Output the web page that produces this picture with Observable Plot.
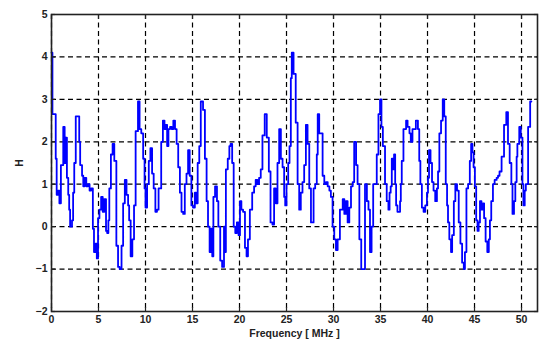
<!DOCTYPE html>
<html>
<head>
<meta charset="utf-8">
<script src="https://cdn.jsdelivr.net/npm/d3@7"></script>
<script src="https://cdn.jsdelivr.net/npm/@observablehq/plot@0.6"></script>
<style>
  html, body { margin: 0; padding: 0; background: #fff; }
  #chart svg { display: block; }
</style>
</head>
<body>
<div id="chart"></div>
<script>
const freq = [
  0.00,0.10,0.45,0.55,0.70,0.84,1.00,1.25,1.40,1.50,1.64,1.78,1.88,1.98,2.18,2.30,2.42,2.58,2.95,3.05,
  3.25,3.38,3.52,3.70,3.88,4.05,4.22,4.40,4.52,4.68,4.82,4.95,5.10,5.28,5.45,5.62,5.80,5.92,6.05,6.15,
  6.32,6.50,6.68,6.90,7.08,7.25,7.45,7.62,7.80,7.98,8.15,8.26,8.42,8.60,8.78,8.95,9.20,9.37,9.55,9.75,
  9.90,10.00,10.17,10.35,10.52,10.70,10.87,11.05,11.22,11.39,11.67,11.85,12.02,12.16,12.30,12.44,12.61,12.79,12.96,13.14,
  13.31,13.48,13.66,13.83,14.01,14.18,14.36,14.53,14.70,14.88,15.05,15.25,15.40,15.55,15.72,15.88,16.12,16.32,16.50,16.65,
  16.82,16.98,17.10,17.22,17.40,17.60,17.75,17.95,18.15,18.35,18.45,18.55,18.75,18.92,19.05,19.22,19.38,19.55,19.72,19.90,
  20.05,20.20,20.38,20.58,20.75,20.90,21.10,21.35,21.55,21.72,21.90,22.08,22.26,22.44,22.68,22.90,23.12,23.30,23.50,23.68,
  23.86,24.04,24.22,24.40,24.58,24.75,24.86,25.00,25.18,25.32,25.46,25.56,25.75,25.98,26.18,26.35,26.52,26.70,26.88,27.06,
  27.24,27.42,27.60,27.88,28.05,28.22,28.32,28.48,28.84,29.02,29.20,29.38,29.56,29.72,29.90,30.08,30.26,30.44,30.68,30.98,
  31.15,31.32,31.50,31.68,31.86,32.04,32.20,32.40,32.56,32.75,32.95,33.35,33.55,33.72,33.88,34.05,34.22,34.45,34.60,34.78,
  34.95,35.10,35.25,35.48,35.66,35.84,35.96,36.08,36.20,36.30,36.44,36.56,36.66,36.80,37.08,37.16,37.26,37.44,37.72,37.88,
  38.08,38.22,38.40,38.76,38.98,39.12,39.24,39.40,39.58,39.76,39.94,40.05,40.16,40.32,40.48,40.64,40.82,41.00,41.12,41.26,
  41.44,41.62,41.78,41.94,42.08,42.18,42.32,42.50,42.62,42.80,42.96,43.14,43.32,43.50,43.68,43.86,43.98,44.14,44.32,44.50,
  44.64,44.78,44.90,45.04,45.18,45.32,45.44,45.58,45.74,45.90,46.02,46.18,46.36,46.52,46.64,46.78,46.96,47.14,47.35,47.50,
  47.66,47.88,48.14,48.38,48.56,48.74,48.92,49.04,49.20,49.34,49.48,49.56,49.76,49.92,50.10,50.20,50.34,50.46,50.70,50.92,
  51.05
];
const H = [
  4.10,2.65,1.60,0.75,0.85,0.55,1.45,2.35,1.50,2.10,1.15,0.75,0.40,0.00,0.15,0.80,1.50,2.60,2.00,1.45,
  1.20,0.95,1.15,0.95,1.00,0.85,0.90,-0.05,-0.60,-0.40,-0.75,0.20,0.40,0.70,0.35,0.65,-0.10,-0.15,0.15,0.90,
  1.70,1.95,1.55,-0.45,-0.95,-1.00,-0.45,0.55,1.10,0.75,0.50,0.15,-0.70,-0.30,0.50,2.25,2.95,2.30,2.20,1.60,
  0.90,0.45,1.00,1.55,1.85,1.25,0.90,0.35,0.40,0.90,2.00,2.50,2.30,2.40,1.90,2.30,2.35,2.30,2.50,2.30,
  1.95,1.40,0.80,0.35,0.30,1.00,1.25,1.80,1.20,0.50,0.45,0.80,0.55,1.50,1.90,2.95,2.75,1.60,0.60,0.00,
  -0.60,-0.05,-0.70,0.70,0.95,0.60,0.00,-0.80,-0.95,0.00,-0.60,1.35,1.60,1.90,1.95,1.50,0.00,-0.15,0.10,-0.20,
  0.60,0.40,0.35,-0.50,-0.70,-0.30,0.40,0.80,0.95,1.10,1.00,1.15,1.35,2.15,2.65,2.10,1.30,0.10,0.05,0.90,
  0.55,1.50,2.30,1.60,1.40,0.70,0.50,1.00,1.50,1.90,3.50,4.10,3.60,2.45,1.00,0.40,0.80,1.05,1.45,2.40,
  1.95,0.90,0.10,0.90,1.00,1.70,2.65,2.20,1.20,1.00,1.05,0.95,0.85,0.70,0.00,-0.30,-0.55,-0.30,0.40,0.65,
  0.30,0.60,0.10,0.45,0.95,1.05,2.00,1.45,1.00,-0.30,-1.00,1.00,0.60,0.40,-0.60,0.00,1.00,1.00,1.70,2.65,
  3.00,2.35,1.90,1.00,0.60,0.40,0.80,0.95,1.60,1.35,1.70,1.00,0.50,0.35,0.60,1.00,1.55,2.30,2.50,2.35,
  2.20,2.00,2.30,2.50,2.30,1.55,1.00,0.45,0.35,0.50,0.80,1.15,1.80,1.50,1.05,0.85,0.60,0.90,1.30,2.20,
  2.50,3.00,2.60,1.00,0.50,0.10,-0.30,-0.60,-0.20,0.60,1.00,0.85,0.10,-0.40,-0.85,-1.00,-0.60,0.90,1.00,1.55,
  1.95,1.75,1.40,0.95,0.15,-0.10,0.10,0.60,0.40,0.55,0.20,-0.35,-0.60,-0.30,0.15,0.60,1.00,1.10,1.15,1.20,
  1.30,1.65,2.40,2.70,1.95,1.50,1.00,0.30,0.60,1.05,1.65,1.95,2.35,2.10,1.00,0.50,0.85,1.00,2.35,2.95,
  2.95
];
const xTicks = [0, 5, 10, 15, 20, 25, 30, 35, 40, 45, 50];
const yTicks = [-2, -1, 0, 1, 2, 3, 4, 5];
const xLabel = "Frequency [ MHz ]";
const yLabel = "H";

const data = freq.map((f, i) => ({f, h: H[i]}));
const font = "Liberation Sans, Arial, sans-serif";

const chart = Plot.plot({
  width: 543,
  height: 351,
  marginLeft: 51,
  marginRight: 6,
  marginTop: 14,
  marginBottom: 40,
  style: {fontFamily: font, fontSize: "10.5px", fontWeight: "bold", color: "#222", background: "#fff"},
  x: {domain: [0, 51.7]},
  y: {domain: [-2, 5]},
  marks: [
    Plot.gridX(xTicks, {stroke: "#000", strokeOpacity: 1, strokeWidth: 1.2, strokeDasharray: "5,3.5"}),
    Plot.gridY(yTicks, {stroke: "#000", strokeOpacity: 1, strokeWidth: 1.2, strokeDasharray: "5,3.5"}),
    Plot.line(data, {x: "f", y: "h", curve: "step-after", stroke: "#0000ff", strokeWidth: 1.8}),
    Plot.axisX(xTicks, {anchor: "bottom", tickSize: -4, tickPadding: 8, label: xLabel, labelAnchor: "center", labelArrow: "none", labelOffset: 25, stroke: "#222", strokeWidth: 1.2}),
    Plot.axisX(xTicks, {anchor: "top", tickSize: -4, tickFormat: () => "", label: null, stroke: "#222", strokeWidth: 1.2}),
    Plot.axisY(yTicks, {anchor: "left", tickSize: -4, tickPadding: 8, label: yLabel, labelAnchor: "center", labelArrow: "none", labelOffset: 36, stroke: "#222", strokeWidth: 1.2}),
    Plot.axisY(yTicks, {anchor: "right", tickSize: -4, tickFormat: () => "", label: null, stroke: "#222", strokeWidth: 1.2}),
    Plot.frame({stroke: "#222", strokeWidth: 1.6})
  ]
});
document.getElementById("chart").appendChild(chart);
</script>
</body>
</html>
